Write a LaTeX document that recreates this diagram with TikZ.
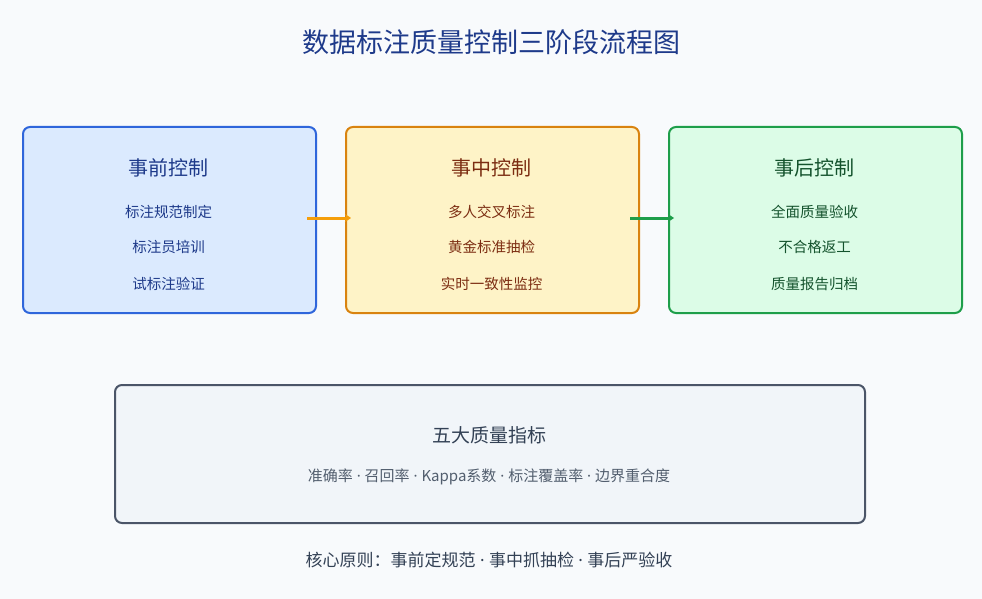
\documentclass[tikz,border=0pt]{standalone}
\usepackage{fontspec}
\setmainfont{Noto Sans CJK SC}
\newfontfamily\latn{Noto Sans}
\newcommand{\md}{{\latn\ ·\ }}
\usetikzlibrary{arrows.meta}
\definecolor{bg}{HTML}{F8FAFC}
\definecolor{bF}{HTML}{DBEAFE}\definecolor{bD}{HTML}{2F66DB}\definecolor{bT}{HTML}{1E3A8A}
\definecolor{oF}{HTML}{FEF3C7}\definecolor{oD}{HTML}{D9830F}\definecolor{oT}{HTML}{7C2D12}
\definecolor{gF}{HTML}{DCFCE7}\definecolor{gD}{HTML}{1E9E4A}\definecolor{gT}{HTML}{14532D}
\definecolor{sF}{HTML}{F1F5F9}\definecolor{sD}{HTML}{4B5568}\definecolor{sT}{HTML}{334155}
\definecolor{oA}{HTML}{F59E0B}
\begin{document}
\begin{tikzpicture}[x=1pt,y=-1pt,
  box/.style={draw,line width=2pt,rounded corners=7pt,minimum width=293pt,minimum height=186pt,anchor=north west,inner sep=0},
  ttl/.style={font=\fontsize{20}{24}\selectfont},
  itm/.style={font=\fontsize{14.5}{17}\selectfont},
  arr/.style={line width=3pt,-{Stealth[length=6pt,width=8pt]}}]
\fill[bg] (0,0) rectangle (982,599);
\useasboundingbox (0,0) rectangle (982,599);
\node[text=bT,font=\fontsize{27}{31}\selectfont] (title) at (491,42) {数据标注质量控制三阶段流程图};
\node[box,draw=bD,fill=bF] (b1) at (22,126) {};
\node[box,draw=oD,fill=oF] (b2) at (345,126) {};
\node[box,draw=gD,fill=gF] (b3) at (668,126) {};
\foreach \n/\x/\c/\t/\a/\b/\d in {b1/168.5/bT/事前控制/标注规范制定/标注员培训/试标注验证,
  b2/491.5/oT/事中控制/多人交叉标注/黄金标准抽检/实时一致性监控,
  b3/814.5/gT/事后控制/全面质量验收/不合格返工/质量报告归档}{
  \node[ttl,text=\c] (\n t) at (\x,168) {\t};
  \node[itm,text=\c] (\n a) at (\x,212) {\a};
  \node[itm,text=\c] (\n b) at (\x,247) {\b};
  \node[itm,text=\c] (\n c) at (\x,284) {\d};
}
\coordinate (a1s) at (307,218);\coordinate (a1e) at (351,218);
\coordinate (a2s) at (630,218);\coordinate (a2e) at (674,218);
\draw[arr,oA] (a1s) -- (a1e);
\draw[arr,gD] (a2s) -- (a2e);
\node[draw=sD,fill=sF,line width=2pt,rounded corners=7pt,minimum width=750pt,minimum height=138pt,anchor=north west] (m) at (114,384) {};
\node[ttl,text=sT,font=\fontsize{19}{22}\selectfont] (mt) at (489,435) {五大质量指标};
\node[itm,text=sT!85,font=\fontsize{15}{18}\selectfont] (ms) at (489,477) {准确率\md 召回率\md Kappa系数\md 标注覆盖率\md 边界重合度};
\node[text=sT,font=\fontsize{17}{20}\selectfont] (foot) at (489,560) {核心原则：事前定规范\md 事中抓抽检\md 事后严验收};
\end{tikzpicture}
\end{document}
